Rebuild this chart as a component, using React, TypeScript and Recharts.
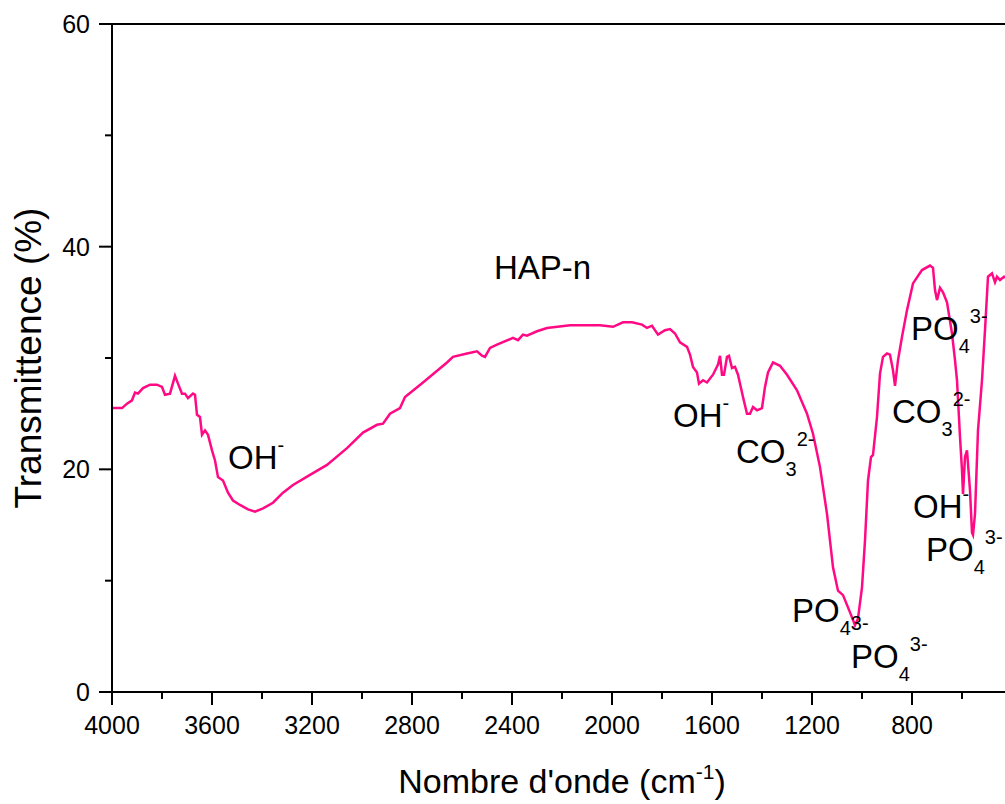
import { LineChart, Line, XAxis, YAxis, ReferenceDot, ReferenceLine } from 'recharts';

const FONT = '"Liberation Sans", Arial, Helvetica, sans-serif';

// spectre IR HAP-n
const wavenumbers = [
  4000, 3960, 3940, 3920, 3908, 3896, 3876, 3848, 3820, 3800, 3788, 3768, 3748, 3736, 3720, 3708, 3696, 3676, 3668, 3660,
  3648, 3640, 3628, 3616, 3600, 3588, 3576, 3556, 3536, 3516, 3488, 3456, 3428, 3396, 3356, 3316, 3276, 3208, 3140, 3060,
  2996, 2940, 2916, 2888, 2848, 2828, 2756, 2660, 2636, 2580, 2540, 2520, 2508, 2488, 2460, 2396, 2376, 2356, 2340, 2300,
  2260, 2168, 2048, 1996, 1956, 1920, 1880, 1860, 1840, 1816, 1788, 1768, 1748, 1728, 1700, 1688, 1676, 1660, 1652, 1636,
  1620, 1596, 1576, 1568, 1560, 1552, 1540, 1532, 1520, 1508, 1496, 1476, 1460, 1448, 1436, 1420, 1400, 1388, 1376, 1356,
  1328, 1300, 1260, 1220, 1196, 1168, 1140, 1116, 1096, 1076, 1056, 1040, 1028, 1016, 1000, 988, 976, 964, 956, 940,
  928, 916, 900, 888, 876, 868, 856, 840, 820, 796, 760, 728, 716, 708, 700, 688, 676, 660, 640, 628,
  620, 608, 600, 596, 588, 580, 568, 560, 556, 548, 536, 520, 508, 496, 480, 468, 460, 448, 432, 416,
  400,
];

const transmittance = [
  25.5, 25.5, 25.9, 26.2, 26.9, 26.8, 27.3, 27.6, 27.6, 27.4, 26.7, 26.8, 28.4, 27.7, 26.8, 26.8, 26.4, 26.8, 26.7, 24.9,
  24.7, 23.1, 23.5, 23.1, 21.7, 20.8, 19.3, 19.0, 17.9, 17.2, 16.8, 16.4, 16.2, 16.5, 17.0, 17.9, 18.6, 19.5, 20.4, 21.9,
  23.3, 24.0, 24.1, 25.0, 25.5, 26.5, 27.8, 29.6, 30.1, 30.4, 30.6, 30.2, 30.1, 30.9, 31.2, 31.8, 31.6, 32.1, 32.0, 32.4,
  32.7, 32.95, 32.95, 32.8, 33.2, 33.2, 33.0, 32.7, 32.9, 32.1, 32.5, 32.6, 32.2, 31.4, 31.0, 30.3, 29.2, 28.7, 27.7, 28.0,
  27.8, 28.5, 29.4, 30.2, 28.5, 28.5, 30.1, 30.2, 29.1, 29.2, 28.5, 26.5, 25.0, 25.0, 25.6, 25.3, 25.5, 27.4, 28.7, 29.6,
  29.3, 28.5, 27.1, 25.0, 23.2, 20.2, 16.0, 11.2, 9.1, 8.7, 7.6, 6.7, 6.0, 6.6, 9.4, 13.6, 19.0, 21.1, 21.3, 24.7,
  28.6, 30.1, 30.4, 30.3, 28.9, 27.5, 29.8, 31.9, 34.3, 36.7, 37.9, 38.3, 38.1, 36.1, 35.2, 36.3, 35.9, 35.0, 32.2, 29.8,
  28.0, 22.9, 19.9, 17.8, 21.1, 21.7, 18.1, 14.3, 14.1, 16.0, 23.5, 28.0, 32.5, 37.3, 37.6, 36.8, 37.3, 37.0, 37.3, 37.1,
  37.2,
];

const xTicks = [4000, 3800, 3600, 3400, 3200, 3000, 2800, 2600, 2400, 2200, 2000, 1800, 1600, 1400, 1200, 1000, 800, 600, 400];
const yTicks = [0, 10, 20, 30, 40, 50, 60];

// annotations: texte, indice, exposant, position (bord gauche / ligne de base)
const annotations = [
  { label: 'OH', sub: '', sup: '-', w: 3536, t: 20.0 },
  { label: 'HAP-n', sub: '', sup: '', w: 2472, t: 37.1 },
  { label: 'OH', sub: '', sup: '-', w: 1756, t: 23.8 },
  { label: 'CO', sub: '3', sup: '2-', w: 1504, t: 20.6 },
  { label: 'PO', sub: '4', sup: '3-', w: 804, t: 31.6 },
  { label: 'CO', sub: '3', sup: '2-', w: 880, t: 24.2 },
  { label: 'OH', sub: '', sup: '-', w: 796, t: 15.6 },
  { label: 'PO', sub: '4', sup: '3-', w: 744, t: 11.8 },
  { label: 'PO', sub: '4', sup: '3-', w: 1280, t: 6.3, supDy: 8 },
  { label: 'PO', sub: '4', sup: '3-', w: 1044, t: 2.2 },
];

const data = wavenumbers.map((w, i) => ({ w, t: transmittance[i] }));

const XTick = ({ x, y, payload }: any) => {
  const major = payload.value % 400 === 0;
  return (
    <g>
      <line x1={x} y1={y} x2={x} y2={y + (major ? 13 : 7)} stroke="#000" strokeWidth={2} />
      {major && payload.value !== 400 && (
        <text x={x} y={y + 42} textAnchor="middle" fontSize={25} fontFamily={FONT} fill="#000">
          {payload.value}
        </text>
      )}
    </g>
  );
};

const YTick = ({ x, y, payload }: any) => {
  const major = payload.value % 20 === 0;
  return (
    <g>
      <line x1={x - (major ? 13 : 7)} y1={y} x2={x} y2={y} stroke="#000" strokeWidth={2} />
      {major && (
        <text x={x - 22} y={y + 9} textAnchor="end" fontSize={25} fontFamily={FONT} fill="#000">
          {payload.value}
        </text>
      )}
    </g>
  );
};

const XTitle = ({ viewBox }: any) => {
  const cx = viewBox.x + viewBox.width / 2;
  return (
    <text x={cx} y={viewBox.y + 101} textAnchor="middle" fontSize={34} fontFamily={FONT} fill="#000">
      Nombre d'onde (cm
      <tspan dy={-14} fontSize={21}>-1</tspan>
      <tspan dy={14}>)</tspan>
    </text>
  );
};

const YTitle = () => {
  const cy = 358;
  const bx = 41;
  return (
    <text x={bx} y={cy} transform={`rotate(-90, ${bx}, ${cy})`} textAnchor="middle" fontSize={37} fontFamily={FONT} fill="#000">
      Transmittence (%)
    </text>
  );
};

const Annot = ({ cx, cy, a }: any) => {
  const supDy = a.supDy ?? -17;
  return (
    <text x={cx} y={cy} fontSize={33} fontFamily={FONT} fill="#000">
      {a.label}
      {a.sub && (
        <tspan dy={13} fontSize={20}>
          {a.sub}
        </tspan>
      )}
      {a.sup && (
        <tspan dy={a.sub ? supDy - 13 : supDy} fontSize={20}>
          {a.sup}
        </tspan>
      )}
    </text>
  );
};

export default function App() {
  return (
    <div style={{ position: 'absolute', left: 0, top: 0, width: 1005, height: 804, overflow: 'hidden', background: '#fff' }}>
      <LineChart width={1020} height={804} data={data} margin={{ top: 24, right: 8, left: 0, bottom: 0 }}>
        <XAxis
          dataKey="w"
          type="number"
          domain={[400, 4000]}
          reversed
          allowDataOverflow
          ticks={xTicks}
          interval={0}
          height={112}
          tickSize={0}
          tickMargin={0}
          tickLine={false}
          tick={<XTick />}
          axisLine={{ stroke: '#000', strokeWidth: 2 }}
          label={{ content: (p: any) => <XTitle viewBox={p.viewBox} /> }}
        />
        <YAxis
          type="number"
          domain={[0, 60]}
          ticks={yTicks}
          interval={0}
          width={112}
          tickSize={0}
          tickMargin={0}
          tickLine={false}
          tick={<YTick />}
          axisLine={{ stroke: '#000', strokeWidth: 2 }}
          label={{ content: () => <YTitle /> }}
        />
        <ReferenceLine y={60} stroke="#000" strokeWidth={2} />
        {annotations.map((a, i) => (
          <ReferenceDot
            key={i}
            x={a.w}
            y={a.t}
            r={0}
            ifOverflow="visible"
            shape={(p: any) => <Annot cx={p.cx} cy={p.cy} a={a} />}
          />
        ))}
        <Line type="linear" dataKey="t" stroke="#ff0a84" strokeWidth={2.5} dot={false} isAnimationActive={false} />
      </LineChart>
    </div>
  );
}
